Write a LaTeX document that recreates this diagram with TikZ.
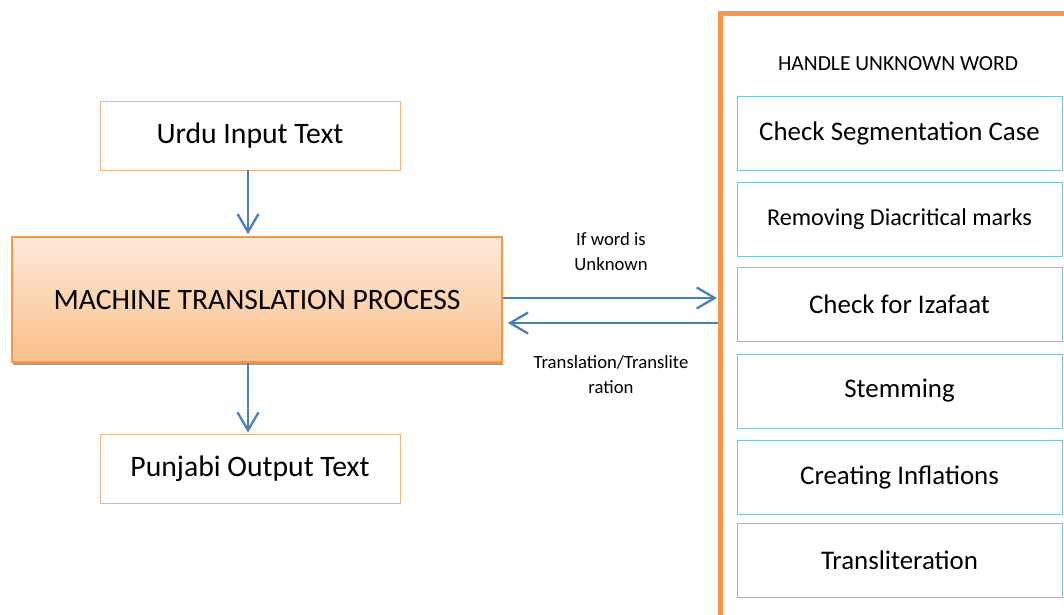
\documentclass[tikz,border=0pt]{standalone}
\usepackage{fontspec}
\setmainfont{Carlito}
\usetikzlibrary{arrows.meta,shadows}
\definecolor{panelorange}{HTML}{F79646}
\definecolor{lightorange}{HTML}{F6B27E}
\definecolor{boxblue}{HTML}{7EC4D8}
\definecolor{arrowblue}{HTML}{4A7EBB}
\definecolor{gradtop}{HTML}{FDE9D9}
\definecolor{gradbot}{HTML}{FBC08A}
\tikzset{
  iobox/.style={draw=lightorange, line width=0.9pt, minimum width=300pt, minimum height=69pt,
    font=\fontsize{29.7}{34}\selectfont},
  procbox/.style={draw=panelorange, line width=1.6pt, minimum width=490pt, minimum height=125pt,
    top color=gradtop, bottom color=gradbot,
    drop shadow={shadow xshift=1pt, shadow yshift=-2.5pt, fill=gray!75, opacity=1},
    font=\fontsize{29.6}{34}\selectfont},
  stepbox/.style={draw=boxblue, line width=0.9pt, minimum width=325pt, minimum height=74pt},
  bigtxt/.style={font=\fontsize{26.9}{32}\selectfont},
  midtxt/.style={font=\fontsize{24.2}{29}\selectfont},
  titletxt/.style={font=\fontsize{21.5}{26}\selectfont},
  lbltxt/.style={font=\fontsize{18.7}{25}\selectfont, align=center},
  arr/.style={draw=arrowblue, line width=2.3pt, -{Straight Barb[length=18pt,width=21pt,line width=2.3pt]}},
}
\begin{document}
\begin{tikzpicture}[x=1pt,y=-1pt]
\useasboundingbox (0,0) rectangle (1064,614);
% left column
\node[iobox] (urdu) at (250,135.5) {Urdu Input Text};
\node[procbox] (mt) at (257,299.5) {MACHINE TRANSLATION PROCESS};
\node[iobox] (punjabi) at (250,468.5) {Punjabi Output Text};
% right panel, running past the page edge
\node[draw=panelorange, line width=4.5pt, minimum width=370pt, minimum height=640pt,
      anchor=north west] (panel) at (718,11) {};
\node[titletxt] (title) at (898,64) {HANDLE UNKNOWN WORD};
% steps inside the panel
\node[stepbox, bigtxt] (s1) at (899.5,133) {Check Segmentation Case};
\node[stepbox, midtxt] (s2) at (899.5,219) {Removing Diacritical marks};
\node[stepbox, bigtxt] (s3) at (899.5,304.5) {Check for Izafaat};
\node[stepbox, bigtxt] (s4) at (899.5,391) {Stemming};
\node[stepbox, bigtxt] (s5) at (899.5,477) {Creating Inflations};
\node[stepbox, bigtxt] (s6) at (899.5,560) {Transliteration};
% connectors
\draw[arr, shorten >=2pt] ([xshift=-2pt]urdu.south) -- ([xshift=-9pt]mt.north);
\draw[arr, shorten >=1pt] ([xshift=-9pt]mt.south) -- ([xshift=-2pt]punjabi.north);
\coordinate (outA) at ([yshift=1.5pt]mt.east);
\coordinate (inB) at ([yshift=-23.5pt]mt.east);
\draw[arr, shorten >=1pt] (outA) -- (outA -| panel.west);
\draw[arr, shorten >=5pt] (inB -| panel.west) -- (inB);
% connector labels
\node[lbltxt] (lblA) at (611,252) {If word is\\Unknown};
\node[lbltxt] (lblB) at (611,375) {Translation/Translite\\ration};
\end{tikzpicture}
\end{document}
